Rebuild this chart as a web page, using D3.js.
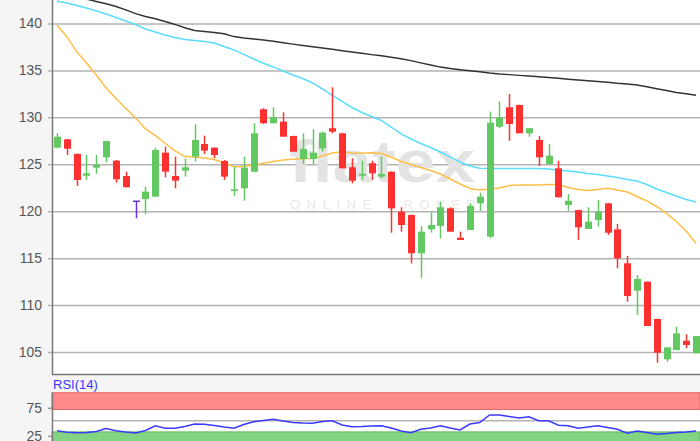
<!DOCTYPE html>
<html>
<head>
<meta charset="utf-8">
<script src="https://cdn.jsdelivr.net/npm/d3@7"></script>
<style>
  body { margin: 0; background: #f5f5f5; }
  svg { display: block; font-family: 'Liberation Sans', Arial, sans-serif; }
</style>
</head>
<body>
<div id="chart"></div>
<script>
// daily candles, oldest first
var openP = [126.77, 127.66, 126.10, 123.78, 124.64, 125.74, 125.38, 123.75, 121.06, 121.30,
  121.55, 126.24, 123.75, 124.32, 125.81, 127.16, 126.77, 125.35, 122.15, 122.44,
  124.21, 130.86, 129.37, 129.54, 128.01, 125.56, 125.56, 126.70, 128.84, 128.30,
  124.68, 123.78, 125.11, 123.68, 124.21, 119.95, 119.60, 115.52, 118.07, 118.43,
  120.31, 117.18, 118.00, 120.84, 117.29, 129.00, 131.07, 131.32, 128.30, 127.59,
  125.03, 124.57, 120.66, 120.13, 118.11, 119.06, 120.84, 118.07, 114.45, 111.53,
  112.49, 108.52, 104.22, 105.21, 106.20, 104.86]
var highP = [128.33, 127.70, 126.15, 125.99, 125.99, 127.48, 125.45, 124.21, 121.06, 122.61,
  126.77, 126.87, 125.81, 125.64, 129.26, 128.05, 126.80, 125.46, 124.74, 125.81,
  129.37, 130.97, 131.07, 130.54, 128.05, 128.30, 128.73, 128.47, 133.20, 128.35,
  125.64, 125.38, 125.38, 125.81, 124.25, 120.42, 119.65, 118.43, 119.88, 121.01,
  120.42, 117.82, 120.84, 121.97, 130.61, 131.67, 132.49, 131.35, 128.84, 128.01,
  127.16, 125.38, 121.83, 120.15, 120.42, 121.19, 120.88, 118.64, 115.23, 113.20,
  112.52, 108.55, 105.50, 107.70, 106.89, 106.70]
var lowP = [126.70, 125.99, 122.69, 123.33, 123.97, 125.24, 123.04, 122.55, 119.25, 119.67,
  121.55, 123.61, 122.44, 123.68, 125.28, 126.10, 125.64, 123.33, 121.62, 121.12,
  124.15, 129.30, 129.37, 127.94, 126.34, 125.00, 125.03, 126.34, 128.30, 124.57,
  122.97, 123.33, 123.33, 123.51, 117.71, 117.82, 114.45, 112.90, 117.71, 117.11,
  117.82, 116.93, 118.00, 120.06, 117.11, 128.84, 127.51, 128.30, 127.94, 124.82,
  125.03, 121.48, 120.06, 116.93, 118.11, 118.35, 117.47, 113.92, 110.36, 108.94,
  107.77, 103.86, 103.97, 105.21, 105.39, 104.86]
var closeP = [127.94, 126.66, 123.33, 124.04, 124.92, 127.48, 123.40, 122.55, 121.06, 122.08,
  126.52, 124.21, 123.25, 124.68, 127.59, 126.45, 125.99, 123.68, 122.33, 124.64,
  128.30, 129.37, 130.00, 127.94, 126.34, 126.63, 126.24, 128.37, 128.47, 124.57,
  123.25, 123.97, 124.04, 123.97, 120.31, 118.53, 115.52, 117.82, 118.53, 120.42,
  117.82, 116.93, 120.56, 121.55, 129.43, 130.00, 129.29, 128.30, 128.84, 125.74,
  125.92, 121.48, 121.12, 118.29, 118.89, 119.95, 117.71, 114.98, 110.97, 112.78,
  107.77, 104.93, 105.50, 106.99, 105.75, 106.70]

// moving averages
var maLong = [143.4, 143.1, 142.85, 142.6, 142.35, 142.1, 141.8, 141.45, 141.05, 140.75,
  140.5, 140.2, 139.9, 139.55, 139.25, 139.15, 139.05, 138.9, 138.6, 138.45,
  138.35, 138.23, 138.1, 137.95, 137.8, 137.66, 137.52, 137.38, 137.25, 137.1,
  136.97, 136.82, 136.68, 136.55, 136.4, 136.25, 136.04, 135.8, 135.58, 135.35,
  135.2, 135.08, 134.97, 134.85, 134.72, 134.62, 134.55, 134.47, 134.4, 134.33,
  134.25, 134.16, 134.07, 133.98, 133.9, 133.83, 133.75, 133.63, 133.55, 133.45,
  133.25, 133.05, 132.85, 132.65, 132.5, 132.35]
var maMid = [142.4, 142.18, 141.92, 141.65, 141.33, 141.01, 140.64, 140.27, 139.89, 139.41,
  139.09, 138.77, 138.51, 138.3, 138.19, 138.08, 137.92, 137.55, 137.18, 136.7,
  136.22, 135.76, 135.37, 134.94, 134.51, 134.14, 133.66, 133.02, 132.33, 131.69,
  131.05, 130.52, 130.09, 129.67, 128.97, 128.23, 127.69, 127.21, 126.79, 126.31,
  125.78, 125.24, 124.82, 124.57, 124.55, 124.55, 124.55, 124.55, 124.55, 124.55,
  124.5, 124.39, 124.29, 124.18, 124.02, 123.91, 123.75, 123.59, 123.38, 123.22,
  122.85, 122.37, 121.99, 121.62, 121.25, 120.98]
var maShort = [139.84, 138.59, 137.0, 135.79, 134.51, 133.13, 132.01, 130.94, 129.93, 128.76,
  128.07, 127.21, 126.42, 125.85, 125.78, 125.67, 125.51, 125.14, 124.74, 124.77,
  124.92, 125.1, 125.3, 125.46, 125.53, 125.58, 125.64, 125.88, 126.2, 126.34,
  126.2, 126.17, 126.23, 126.15, 125.78, 125.3, 124.98, 124.66, 124.34, 123.97,
  123.43, 122.9, 122.42, 122.26, 122.37, 122.47, 122.74, 122.79, 122.79, 122.79,
  122.85, 122.85, 122.53, 122.31, 122.21, 122.31, 122.44, 122.26, 122.05, 121.57,
  121.09, 120.5, 119.76, 118.9, 117.89, 116.58]

// RSI(14)
var rsi = [32.0, 29.3, 28.6, 28.9, 30.7, 36.1, 32.0, 29.8, 28.0, 32.5,
  40.9, 36.4, 36.6, 39.6, 44.1, 43.8, 41.4, 38.8, 36.6, 43.2,
  48.2, 50.4, 52.5, 49.5, 46.8, 45.9, 45.5, 48.6, 50.0, 42.3,
  39.3, 39.6, 40.5, 41.1, 37.0, 31.6, 28.6, 34.6, 37.0, 41.1,
  37.0, 33.4, 44.1, 46.8, 60.2, 60.2, 57.5, 54.8, 57.1, 50.0,
  50.0, 41.8, 41.1, 36.4, 38.8, 41.1, 37.9, 34.6, 27.5, 31.6,
  28.9, 25.7, 27.1, 28.9, 29.8, 31.6]

var priceTicks = [105, 110, 115, 120, 125, 130, 135, 140]
var rsiTicks = [25, 75]

var width = 700
var height = 441
var plotLeft = 52
var plotBottom = 375
var rsiTop = 392.7

var svg = d3
  .select('#chart')
  .append('svg')
  .attr('width', width)
  .attr('height', height)

svg.append('rect').attr('width', width).attr('height', height).attr('fill', '#f5f5f5')
svg
  .append('rect')
  .attr('x', plotLeft)
  .attr('width', width - plotLeft)
  .attr('height', plotBottom)
  .attr('fill', '#fff')

var x = d3.scaleLinear().domain([0, openP.length - 1]).range([57, 696])
var y = d3.scaleLinear().domain([102.55, 142.5]).range([plotBottom, 0])

svg
  .append('clipPath')
  .attr('id', 'plot-clip')
  .append('rect')
  .attr('x', plotLeft)
  .attr('width', width - plotLeft)
  .attr('height', plotBottom)

// grid lines (stick out a few px left of the axis)
var grid = svg
  .append('g')
  .attr('transform', 'translate(' + (plotLeft - 4) + ',0)')
  .call(d3.axisLeft(y).tickValues(priceTicks).tickSize(-(width - plotLeft + 4)).tickFormat(''))
grid.select('.domain').remove()
grid.selectAll('line').attr('stroke', '#b3b3b3').attr('stroke-width', 1.5)

var yAxis = svg
  .append('g')
  .attr('transform', 'translate(' + plotLeft + ',0)')
  .call(d3.axisLeft(y).tickValues(priceTicks).tickSize(0).tickPadding(10))
yAxis.select('.domain').remove()
yAxis
  .selectAll('text')
  .attr('fill', '#555')
  .attr('font-size', 14)
  .attr('font-family', "'Liberation Sans', Arial, sans-serif")

// watermark
var wm = svg.append('g').attr('clip-path', 'url(#plot-clip)')
wm.append('text')
  .attr('x', 289)
  .attr('y', 182)
  .attr('textLength', 186)
  .attr('lengthAdjust', 'spacingAndGlyphs')
  .attr('font-size', 60)
  .attr('font-weight', 'bold')
  .attr('fill', '#e3e3e3')
  .text('flatex')
wm.append('text')
  .attr('x', 290)
  .attr('y', 209)
  .attr('textLength', 186)
  .attr('lengthAdjust', 'spacing')
  .attr('font-size', 13)
  .attr('fill', '#e9e9e9')
  .text('ONLINE BROKER')

var chartArea = svg.append('g').attr('clip-path', 'url(#plot-clip)')

var maLine = d3
  .line()
  .x((d, i) => x(i))
  .y(d => y(d))

var maSeries = [
  { values: maLong, color: '#333333' },
  { values: maMid, color: '#5adcff' },
  { values: maShort, color: '#ffbf47' }
]

chartArea
  .selectAll('.ma')
  .data(maSeries)
  .enter()
  .append('path')
  .attr('class', 'ma')
  .attr('d', d => maLine(d.values))
  .attr('fill', 'none')
  .attr('stroke', d => d.color)
  .attr('stroke-width', 1.5)

var candles = openP.map((o, i) => ({
  i: i,
  open: o,
  high: highP[i],
  low: lowP[i],
  close: closeP[i]
}))

function candleColor(d) {
  if (d.open === d.close) return '#6a32d6'
  return d.close > d.open ? '#62c962' : '#ff3030'
}

var bodyW = 7

var candleG = chartArea
  .selectAll('.candle')
  .data(candles)
  .enter()
  .append('g')
  .attr('class', 'candle')

candleG
  .append('line')
  .attr('x1', d => Math.round(x(d.i)) + 0.5)
  .attr('x2', d => Math.round(x(d.i)) + 0.5)
  .attr('y1', d => y(d.high))
  .attr('y2', d => y(d.low))
  .attr('stroke', candleColor)
  .attr('stroke-width', 1.5)

candleG
  .filter(d => d.open !== d.close)
  .append('rect')
  .attr('x', d => Math.round(x(d.i)) + 0.5 - bodyW / 2)
  .attr('y', d => y(Math.max(d.open, d.close)))
  .attr('width', bodyW)
  .attr('height', d => Math.max(1, Math.abs(y(d.open) - y(d.close))))
  .attr('fill', candleColor)

// doji: flat bar
candleG
  .filter(d => d.open === d.close)
  .append('line')
  .attr('x1', d => Math.round(x(d.i)) + 0.5 - bodyW / 2)
  .attr('x2', d => Math.round(x(d.i)) + 0.5 + bodyW / 2)
  .attr('y1', d => y(d.open))
  .attr('y2', d => y(d.open))
  .attr('stroke', candleColor)
  .attr('stroke-width', 1.5)

// frame
svg.append('line')
  .attr('x1', plotLeft + 0.5).attr('x2', plotLeft + 0.5)
  .attr('y1', 0).attr('y2', plotBottom)
  .attr('stroke', '#7a7a7a').attr('stroke-width', 1.5)
svg.append('line')
  .attr('x1', plotLeft).attr('x2', width)
  .attr('y1', plotBottom - 0.5).attr('y2', plotBottom - 0.5)
  .attr('stroke', '#7a7a7a').attr('stroke-width', 1.5)

// RSI panel
var rsiY = d3.scaleLinear().domain([0, 100]).range([rsiTop + 56, rsiTop])

svg.append('text')
  .attr('x', 53)
  .attr('y', 388.5)
  .attr('font-size', 13)
  .attr('fill', '#3535ff')
  .text('RSI(14)')

svg.append('rect')
  .attr('x', plotLeft)
  .attr('y', rsiTop)
  .attr('width', width - plotLeft)
  .attr('height', height - rsiTop)
  .attr('fill', '#fff')

svg.append('rect')
  .attr('x', plotLeft)
  .attr('y', rsiY(100))
  .attr('width', width - plotLeft)
  .attr('height', rsiY(70) - rsiY(100))
  .attr('fill', '#ff8a8a')
  .attr('stroke', '#e06a6a')
  .attr('stroke-width', 1)

svg.append('rect')
  .attr('x', plotLeft)
  .attr('y', rsiY(30))
  .attr('width', width - plotLeft)
  .attr('height', rsiY(0) - rsiY(30))
  .attr('fill', '#82d482')
  .attr('stroke', '#62b862')
  .attr('stroke-width', 1)

svg.append('line')
  .attr('x1', plotLeft).attr('x2', width)
  .attr('y1', rsiY(50)).attr('y2', rsiY(50))
  .attr('stroke', '#b3b3b3').attr('stroke-width', 1.5)

var rsiAxis = svg
  .append('g')
  .attr('transform', 'translate(' + plotLeft + ',1.6)')
  .call(d3.axisLeft(rsiY).tickValues(rsiTicks).tickSize(0).tickPadding(10))
rsiAxis.select('.domain').remove()
rsiAxis
  .selectAll('text')
  .attr('fill', '#555')
  .attr('font-size', 14)
  .attr('font-family', "'Liberation Sans', Arial, sans-serif")

svg.selectAll('.rsi-tick')
  .data(rsiTicks)
  .enter()
  .append('line')
  .attr('class', 'rsi-tick')
  .attr('x1', plotLeft - 4).attr('x2', plotLeft)
  .attr('y1', d => rsiY(d) + 1.6).attr('y2', d => rsiY(d) + 1.6)
  .attr('stroke', '#999').attr('stroke-width', 1.5)

var rsiLine = d3
  .line()
  .x((d, i) => x(i))
  .y(d => rsiY(d))

svg.append('path')
  .datum(rsi)
  .attr('d', rsiLine)
  .attr('fill', 'none')
  .attr('stroke', '#3a3aff')
  .attr('stroke-width', 1.5)

svg.append('line')
  .attr('x1', plotLeft + 0.5).attr('x2', plotLeft + 0.5)
  .attr('y1', rsiTop).attr('y2', height)
  .attr('stroke', '#7a7a7a').attr('stroke-width', 1.5)
</script>
</body>
</html>
